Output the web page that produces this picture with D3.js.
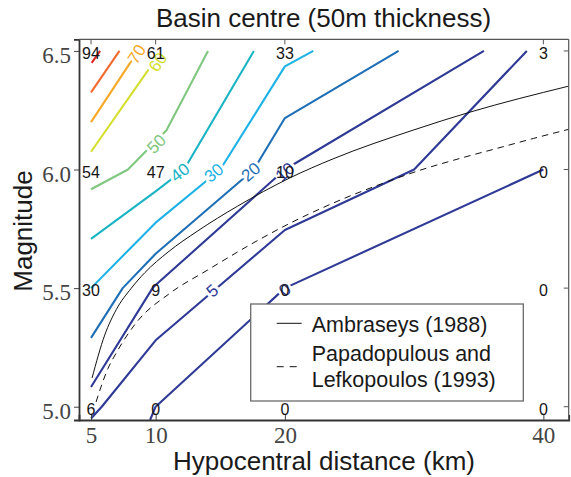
<!DOCTYPE html>
<html><head><meta charset="utf-8">
<script src="https://cdn.jsdelivr.net/npm/d3@7"></script>
<style>body{margin:0;background:#fff}</style>
</head><body><svg id="c" width="571" height="477"></svg>
<script>
// ---------- data ----------
const xTicks = [5, 10, 20, 40];
const yTicks = [5.0, 5.5, 6.0, 6.5];
const gridX = [5, 10, 20, 40];
const gridY = [6.5, 6.0, 5.5, 5.0];
const gridValues = [
  [94, 61, 33, 3],
  [54, 47, 10, 0],
  [30, 9, 0, 0],
  [6, 0, 0, 0]
];
const contourLevels = [90, 80, 70, 60, 50, 40, 30, 20, 10, 5, 0];
const contourColors = ["#e2262b", "#f26b2e", "#f8a826", "#d4de2b", "#80c77f", "#1bb4c4", "#1fb2e6", "#1f6fb6", "#2e3a95", "#2e3a95", "#2e3a95"];
// contour polylines: [distance (km), magnitude]
const contour90 = [[5.05, 6.45], [5.7, 6.5]];
const contour80 = [[5, 6.325], [7.2, 6.5]];
const contour70 = [[5, 6.2], [8.64, 6.5]];
const contour60 = [[5, 6.075], [10, 6.464], [10.36, 6.5]];
const contour50 = [[5, 5.917], [7.86, 6.0], [10.84, 6.166], [14.05, 6.5]];
const contour40 = [[5, 5.708], [10, 5.908], [12.2, 6.0], [17.6, 6.5]];
const contour30 = [[5, 5.5], [10, 5.776], [15.0, 6.0], [20, 6.435], [22.2, 6.5]];
const contour20 = [[5, 5.29], [7.45, 5.5], [10, 5.645], [17.6, 6.0], [20, 6.217], [28.8, 6.5]];
const contour10 = [[5, 5.083], [9.76, 5.5], [10, 5.513], [20, 6.0], [35.4, 6.5]];
const contour5 = [[5, 4.95], [5.83, 5.0], [10, 5.28], [20, 5.745], [30, 6.0], [38.72, 6.5]];
const contour0 = [[9.57, 4.944], [10, 5.0], [20, 5.5], [40, 6.0]];
const contourPaths = [contour90, contour80, contour70, contour60, contour50, contour40, contour30, contour20, contour10, contour5, contour0];

const contourLabelLevels = [70, 60, 50, 40, 30, 20, 10, 5, 0];
const contourLabelDist = [8.56, 10.19, 10.08, 11.89, 14.52, 17.38, 20.02, 14.40, 20.02];
const contourLabelMag = [6.486, 6.452, 6.107, 5.987, 5.985, 5.989, 5.989, 5.488, 5.492];

const ambraseysDist = [5.08, 6.06, 6.96, 8.12, 9.16, 10.96, 13.28, 16.32, 20.40, 23.73, 29.92, 34.33, 41.92];
const ambraseysMag = [5.121, 5.302, 5.41, 5.50, 5.565, 5.652, 5.742, 5.845, 5.965, 6.045, 6.166, 6.242, 6.351];
const papaDist = [5.39, 5.75, 6.3, 6.86, 8.48, 11.12, 13.98, 17.54, 20.56, 24.27, 27.89, 30.46, 33.56, 36.40, 39.23, 42.0];
const papaMag = [5.020, 5.080, 5.160, 5.218, 5.353, 5.479, 5.575, 5.690, 5.778, 5.871, 5.948, 5.997, 6.047, 6.089, 6.131, 6.170];

const legendLabels = [["Ambraseys (1988)"], ["Papadopulous and", "Lefkopoulos (1993)"]];

// ---------- layout ----------
const L = 79, R = 568.7, T = 39.3, B = 420;
const sans = "'Liberation Sans', Arial, sans-serif";
const serif = "'Liberation Serif', 'Times New Roman', serif";
const svg = d3.select("#c");
const x = d3.scaleLinear().domain([4.07, 41.96]).range([L, R]);
const y = d3.scaleLinear().domain([4.944, 6.549]).range([B, T]);

svg.append("defs").append("clipPath").attr("id", "clip")
  .append("rect").attr("x", L).attr("y", T).attr("width", R - L).attr("height", B - T);

const plot = svg.append("g").attr("clip-path", "url(#clip)");
const line = d3.line().x(d => x(d[0])).y(d => y(d[1]));

// contour lines
contourPaths.forEach((p, i) => {
  plot.append("path").attr("d", line(p)).attr("fill", "none")
    .attr("stroke", contourColors[i]).attr("stroke-width", 2.1)
    .attr("stroke-linejoin", "round");
});

// contour labels
contourLabelLevels.forEach((lev, i) => {
  const li = contourLevels.indexOf(lev);
  const pts = contourPaths[li].map(d => [x(d[0]), y(d[1])]);
  const px = x(contourLabelDist[i]), py = y(contourLabelMag[i]);
  let best = 1e9, ang = 0;
  for (let k = 0; k < pts.length - 1; k++) {
    const [x1, y1] = pts[k], [x2, y2] = pts[k + 1];
    const dx = x2 - x1, dy = y2 - y1;
    let t = ((px - x1) * dx + (py - y1) * dy) / (dx * dx + dy * dy);
    t = Math.max(0, Math.min(1, t));
    const ex = x1 + t * dx - px, ey = y1 + t * dy - py;
    const dist = ex * ex + ey * ey;
    if (dist < best) { best = dist; ang = Math.atan2(dy, dx) * 180 / Math.PI; }
  }
  if (ang < -90) ang += 180; if (ang > 90) ang -= 180;
  plot.append("text").attr("transform", `translate(${px},${py}) rotate(${ang})`)
    .attr("text-anchor", "middle").attr("dominant-baseline", "central")
    .attr("font-family", sans).attr("font-size", 17)
    .attr("fill", contourColors[li])
    .attr("stroke", "#fff").attr("stroke-width", 6).attr("paint-order", "stroke")
    .attr("stroke-linejoin", "round")
    .text(lev);
});

// empirical curves
const ambPts = ambraseysDist.map((d, i) => [d, ambraseysMag[i]]);
const papPts = papaDist.map((d, i) => [d, papaMag[i]]);
const smooth = d3.line().x(d => x(d[0])).y(d => y(d[1])).curve(d3.curveMonotoneX);
plot.append("path").attr("d", smooth(ambPts)).attr("fill", "none").attr("stroke", "#111").attr("stroke-width", 1);
plot.append("path").attr("d", smooth(papPts)).attr("fill", "none").attr("stroke", "#111").attr("stroke-width", 1)
  .attr("stroke-dasharray", "6.5,5");

// grid value labels
gridY.forEach((m, r) => gridX.forEach((d, c) => {
  svg.append("text").attr("x", x(d)).attr("y", y(m)).attr("dy", "0.5em")
    .attr("text-anchor", "middle").attr("font-family", sans).attr("font-size", 16)
    .attr("fill", "#151515").text(gridValues[r][c]);
}));

// legend
const lg = svg.append("g");
lg.append("rect").attr("x", 250.7).attr("y", 304).attr("width", 272.6).attr("height", 97)
  .attr("fill", "#fff").attr("stroke", "#6a6a6a").attr("stroke-width", 1.3);
lg.append("line").attr("x1", 276.7).attr("x2", 301.7).attr("y1", 323.3).attr("y2", 323.3)
  .attr("stroke", "#111").attr("stroke-width", 1);
lg.append("line").attr("x1", 276.7).attr("x2", 301.7).attr("y1", 366.7).attr("y2", 366.7)
  .attr("stroke", "#111").attr("stroke-width", 1).attr("stroke-dasharray", "7,6");
const lgText = (t, yy) => lg.append("text").attr("x", 311.7).attr("y", yy)
  .attr("font-family", sans).attr("font-size", 21.5).attr("fill", "#1a1a1a").text(t);
lgText(legendLabels[0][0], 331.5);
lgText(legendLabels[1][0], 360.5);
lgText(legendLabels[1][1], 386.5);

// axes
const axL = svg.append("g").attr("transform", `translate(${L},0)`)
  .call(d3.axisLeft(y).tickValues(yTicks).tickFormat(d3.format(".1f")).tickSize(5).tickPadding(3));
const axB = svg.append("g").attr("transform", `translate(0,${B})`)
  .call(d3.axisBottom(x).tickValues(xTicks).tickSize(-5).tickPadding(7));
[axL, axB].forEach(a => {
  a.select(".domain").attr("stroke", "#333").attr("stroke-width", 1.8);
  a.selectAll(".tick line").attr("stroke", "#444");
  a.selectAll(".tick text").attr("font-family", serif).attr("font-size", 23).attr("fill", "#444");
});
axL.selectAll(".tick text").attr("dy", "0.5em");
axB.selectAll(".tick text").attr("dy", "0.71em");
// top & right box edges
svg.append("line").attr("x1", L).attr("x2", R).attr("y1", T).attr("y2", T).attr("stroke", "#555").attr("stroke-width", 1.2);
svg.append("line").attr("x1", R).attr("x2", R).attr("y1", T).attr("y2", B).attr("stroke", "#555").attr("stroke-width", 1.2);
xTicks.forEach(v => svg.append("line").attr("x1", x(v)).attr("x2", x(v)).attr("y1", T).attr("y2", T + 5).attr("stroke", "#555"));
yTicks.forEach(v => svg.append("line").attr("x1", R).attr("x2", R - 5).attr("y1", y(v)).attr("y2", y(v)).attr("stroke", "#555"));

// titles
svg.append("text").attr("x", 323.5).attr("y", 27).attr("text-anchor", "middle")
  .attr("font-family", sans).attr("font-size", 26).attr("fill", "#1a1a1a").text("Basin centre (50m thickness)");
svg.append("text").attr("x", 324).attr("y", 470).attr("text-anchor", "middle")
  .attr("font-family", sans).attr("font-size", 26).attr("fill", "#1a1a1a").text("Hypocentral distance (km)");
svg.append("text").attr("transform", "translate(32,231) rotate(-90)").attr("text-anchor", "middle")
  .attr("font-family", sans).attr("font-size", 26).attr("fill", "#1a1a1a").text("Magnitude");
</script></body></html>
